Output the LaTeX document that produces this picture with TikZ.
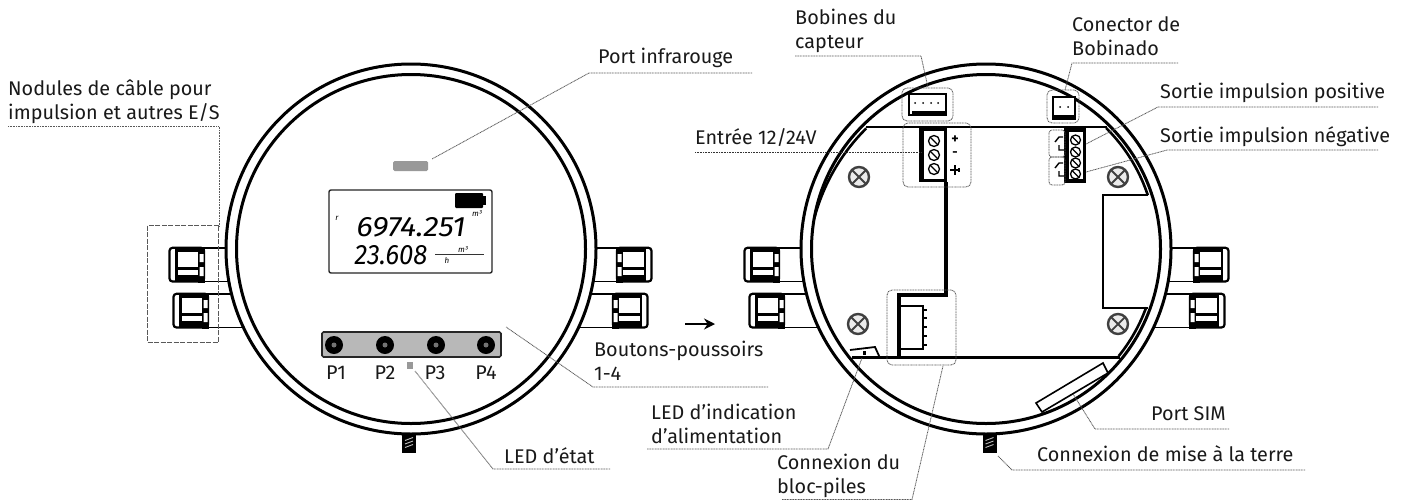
\documentclass[tikz,border=0pt]{standalone}
\usepackage{fontspec}
\setmainfont{Fira Sans}
\usetikzlibrary{arrows.meta}
\tikzset{
  x=1pt,y=-1pt,
  lab/.style={inner sep=0pt,anchor=west,align=left,font=\fontsize{19.8}{23.5}\selectfont,text=black!90},
  lead/.style={draw=black!65,line width=0.8pt,dash pattern=on 1pt off 0.6pt},
  dbox/.style={draw=black!65,line width=0.8pt,dash pattern=on 1pt off 0.6pt,rounded corners=5pt},
  ring/.style={draw=black,line width=3pt},
  heavy/.style={draw=black,line width=2.6pt},
  screwc/.style={draw=black!75,fill=black!8,line width=2.4pt},
  lcdt/.style={inner sep=0pt,font=\fontsize{28}{28}\itshape\selectfont},
  tiny/.style={inner sep=0pt,font=\fontsize{8}{8}\itshape\selectfont},
}
% gland: x start, top y, direction (+1 head at left, -1 head at right), total length
\newcommand{\glandm}[4]{%
\begin{scope}[shift={(#1,#2)},xscale=#3]
 \draw[line width=1.8pt] (34,1)--(#4,1) (34,34.5)--(#4,34.5);
 \draw[line width=2.2pt,rounded corners=3pt] (0.5,0.8) rectangle (35,34.5);
 \fill (6,0) rectangle (30,5);
 \fill (6,20) rectangle (30,23);
 \fill (6,28) rectangle (30,35);
 \fill (6,0) rectangle (8.5,35);
 \fill (29,0) rectangle (36,35.5);
 \fill[white] (30.5,7) rectangle (34.5,15) (30.5,20) rectangle (34.5,29);
\end{scope}}
\newcommand{\xscrew}[2]{%
 \draw[screwc] (#1,#2) circle[radius=10pt];
 \draw[black!75,line width=1.8pt] (#1-6.5,#2-6.5)--(#1+6.5,#2+6.5) (#1-6.5,#2+6.5)--(#1+6.5,#2-6.5);}
\newcommand{\tscrew}[3]{%
 \draw[black,line width=1.3pt,fill=white] (#1,#2) circle[radius=#3 pt];
 \draw[black,line width=1.3pt] (#1-#3*0.7,#2-#3*0.7)--(#1+#3*0.7,#2+#3*0.7);}
\newcommand{\stud}[1]{%
 \fill (#1-7,435) rectangle (#1+7,453);
 \foreach \yy in {439,442.5,446}{\draw[white!75!black,line width=0.9pt] (#1-4,\yy+1.5)--(#1+4,\yy-1.5);}}
\newcommand{\switchsym}[2]{%
 \draw[black,line width=1.4pt] (#1+5,#2-7)--(#1+1,#2-7)--(#1-3,#2-2) (#1+1,#2+1)--(#1+1,#2+6)--(#1+6,#2+6);}
\begin{document}
\begin{tikzpicture}
\useasboundingbox (0,0) rectangle (1407,501);
\fill[white] (0,0) rectangle (1407,501);
% glands behind the housings
\glandm{169}{247}{1}{60}
\glandm{173}{293}{1}{70}
\glandm{652}{247}{-1}{60}
\glandm{648}{293}{-1}{70}
\glandm{744}{247}{1}{60}
\glandm{749}{293}{1}{70}
\glandm{1229}{247}{-1}{60}
\glandm{1225}{293}{-1}{75}
% studs
\stud{409}\stud{989.5}
% housings
\foreach \cx in {411,986}{
 \draw[ring,fill=white] (\cx,249) circle[radius=185pt];
 \draw[ring] (\cx,249) circle[radius=174.5pt];
}
% ---------- left unit
\node[draw=black!85,line width=1.4pt,fill=white,rounded corners=2pt,minimum width=163pt,minimum height=83pt,inner sep=0pt] (lcd) at (410.5,231.5) {};
\fill[black!40,rounded corners=1.5pt] (393,161) rectangle (428,171);
\fill[rounded corners=1pt] (455,193) rectangle (483,208);
\fill (483,196) rectangle (486,205);
\node[tiny] (rr) at (337,218) {r};
\node[tiny] (m3a) at (477,214) {m³};
\node[lcdt] (d1) at (411,227) {\scalebox{1.1}[1]{6974.251}};
\node[lcdt] (d2) at (391,255) {\scalebox{0.92}[1]{23.608}};
\draw[black!80,line width=0.9pt] (435,254)--(484,254);
\node[tiny] (m3b) at (463,250) {m³};
\node[tiny] (hh) at (447,261) {h};
\node[draw=black!85,line width=1.6pt,fill=black!28,rounded corners=1.5pt,minimum width=179pt,minimum height=25pt,inner sep=0pt] (bar) at (411.5,344.5) {};
\foreach \bx/\bn in {334/a,385/b,436/c,486/d}{
 \fill (\bx,345) circle[radius=9pt];
 \fill[black!55] (\bx,345) circle[radius=2.5pt];
}
\node[lab,anchor=center] (p1) at (336,373) {P1};
\node[lab,anchor=center] (p2) at (385,373) {P2};
\node[lab,anchor=center] (p3) at (435,373) {P3};
\node[lab,anchor=center] (p4) at (486,373) {P4};
\fill[black!40] (407,362) rectangle (413,369);
% dashed cable box
\draw[black!65,line width=0.9pt,dash pattern=on 5pt off 1.5pt] (218.5,225.5)--(147,225.5)--(147,342)--(218.5,342)--cycle;
% ---------- right unit
\newcommand{\boardarc}[2]{plot[domain=#1:#2,samples=50] ({986+170.5*cos(\x)},{249-170.5*sin(\x)})}
\draw[heavy] plot[domain=134.8:170,samples=50] ({986+(170+4.5*((\x-134.8)/35.2)^2)*cos(\x)},{249-(170+4.5*((\x-134.8)/35.2)^2)*sin(\x)});
\draw[heavy] (866,127)--(1107,127);
\draw[heavy] \boardarc{45.2}{18.4};
\draw[heavy] (1148,195)--(1103,195)--(1103,308)--(1148,308);
\draw[heavy] \boardarc{-20}{-38.9};
\draw[heavy] (1120,357.5)--(852,357.5);
\draw[black,line width=3.2pt] (946,182)--(946,295)--(899,295)--(899,358);
\xscrew{859}{177}\xscrew{1118}{177}\xscrew{858}{324}\xscrew{1118}{324}
% coil connector
\draw[black,line width=1.8pt,fill=white] (909,94) rectangle (946,115);
\fill (912,111) rectangle (946,116);
\foreach \dx in {915,923,931,938}{\fill (\dx,103) circle[radius=1pt];}
\node[dbox,minimum width=51pt,minimum height=33pt,inner sep=0pt] (coilbox) at (927.5,104.5) {};
% power terminal
\fill (919,127) rectangle (947,182);
\fill[white] (923.5,131) rectangle (944,179);
\tscrew{934}{141}{5.5}\tscrew{934}{155}{5.5}\tscrew{934}{169}{5.5}
\node[inner sep=0pt,font=\bfseries\fontsize{14}{14}\selectfont] (plus) at (955,140) {+};
\node[inner sep=0pt,font=\bfseries\fontsize{13}{13}\selectfont] (minus) at (955,154) {-};
\draw[black,line width=1.8pt] (950,170)--(958,170);
\draw[black,line width=2.4pt] (955,165)--(955,175);
\draw[black,line width=2.4pt] (959,168)--(959,172);
\node[dbox,minimum width=68pt,minimum height=64pt,inner sep=0pt] (pwrbox) at (937,155) {};
% winding connector
\draw[black,line width=1.5pt,fill=white] (1053,97) rectangle (1075,119);
\fill (1053,115) rectangle (1075,120);
\fill (1060,107) circle[radius=1pt] (1068,107) circle[radius=1pt];
\node[dbox,minimum width=32pt,minimum height=33pt,inner sep=0pt] (windbox) at (1063,106.5) {};
% pulse terminal
\fill (1064,128) rectangle (1086,183);
\fill[white] (1069,132) rectangle (1083,179);
\tscrew{1075.5}{140}{5}\tscrew{1075.5}{152}{5}\tscrew{1075.5}{163}{5}\tscrew{1075.5}{174}{5}
\node[dbox,minimum width=16pt,minimum height=27pt,inner sep=0pt,rounded corners=3pt] (posbox) at (1057,143.5) {};
\node[dbox,minimum width=16pt,minimum height=28pt,inner sep=0pt,rounded corners=3pt] (negbox) at (1057,171) {};
\switchsym{1058}{144}\switchsym{1058}{170}
% battery connector
\draw[black,line width=1.8pt] (900,306)--(923,306)--(923,349)--(900,349);
\foreach \py in {310,318,327,336,345}{\draw[black,line width=1.4pt] (923,\py)--(927,\py);}
\node[dbox,minimum width=69pt,minimum height=75pt,inner sep=0pt] (batbox) at (921.5,327.5) {};
% power LED
\draw[black,line width=1.8pt] (850,350)--(875,347)--(880,358);
\fill (862.5,351) rectangle (866,355);
% SIM port
\draw[black,line width=1.6pt,fill=white] (1036,403)--(1103,363)--(1108,373)--(1042,412)--cycle;
% arrow
\coordinate (arrA) at (685,324); \coordinate (arrB) at (715,324);
\draw[black,line width=1.5pt,-{Stealth[length=11pt,width=11pt]}] (arrA)--(arrB);
% ---------- labels
\node[lab] (nod) at (8,102) {Nodules de câble pour\\impulsion et autres E/S};
\node[lab] (irp) at (598,58) {Port infrarouge};
\node[lab] (bout) at (594,361) {Boutons-poussoirs\\1-4};
\node[lab] (etat) at (504,456) {LED d’état};
\node[lab] (bob) at (795,31) {Bobines du\\capteur};
\node[lab] (cdb) at (1072,36) {Conector de\\Bobinado};
\node[lab] (ent) at (695,138) {Entrée 12/24V};
\node[lab] (pos) at (1160,92.5) {Sortie impulsion positive};
\node[lab] (neg) at (1160,136.5) {Sortie impulsion négative};
\node[lab] (ali) at (651,424) {LED d’indication\\d’alimentation};
\node[lab] (blo) at (777,476) {Connexion du\\bloc-piles};
\node[lab] (sim) at (1151,414) {Port SIM};
\node[lab] (ter) at (1037,454) {Connexion de mise à la terre};
% ---------- leaders
\coordinate (a1) at (8,126.5); \coordinate (a2) at (219,126.5); \coordinate (a3) at (219,226);
\draw[lead] (a1)--(a2)--(a3);
\coordinate (b1) at (752,73); \coordinate (b2) at (589,73); \coordinate (b3) at (432,159);
\draw[lead] (b1)--(b2)--(b3);
\coordinate (c1) at (768,387); \coordinate (c2) at (593,387); \coordinate (c3) at (506,327);
\draw[lead] (c1)--(c2)--(c3);
\coordinate (d1a) at (610,469); \coordinate (d2a) at (493,469); \coordinate (d3a) at (415,371);
\draw[lead] (d1a)--(d2a)--(d3a);
\coordinate (e1) at (795,56); \coordinate (e2) at (921,56);
\draw[lead] (e1)--(e2)--(coilbox.north -| 928,88);
\coordinate (f1) at (1178,63); \coordinate (f2) at (1072,63);
\draw[lead] (f1)--(f2)--(1065,90);
\coordinate (g1) at (695,152); \coordinate (g2) at (922,152);
\draw[lead,draw=black!80] (g1)--(g2);
\coordinate (h1) at (1378,107); \coordinate (h2) at (1158,107); \coordinate (h3) at (1086,144);
\draw[lead] (h1)--(h2)--(h3);
\coordinate (i1) at (1378,150); \coordinate (i2) at (1167,150); \coordinate (i3) at (1086,172);
\draw[lead] (i1)--(i2)--(i3);
\coordinate (j1) at (647,449); \coordinate (j2) at (828,449); \coordinate (j3) at (862,358);
\draw[lead] (j1)--(j2)--(j3);
\coordinate (k1) at (782,499.5); \coordinate (k2) at (912,499.5); \coordinate (k3) at (943,366);
\draw[lead] (k1)--(k2)--(k3);
\coordinate (l1) at (1229,429); \coordinate (l2) at (1095,429); \coordinate (l3) at (1073,394);
\draw[lead] (l1)--(l2)--(l3);
\coordinate (m1) at (1305,470); \coordinate (m2) at (1012,470); \coordinate (m3) at (998,456);
\draw[lead] (m1)--(m2)--(m3);
\end{tikzpicture}
\end{document}
